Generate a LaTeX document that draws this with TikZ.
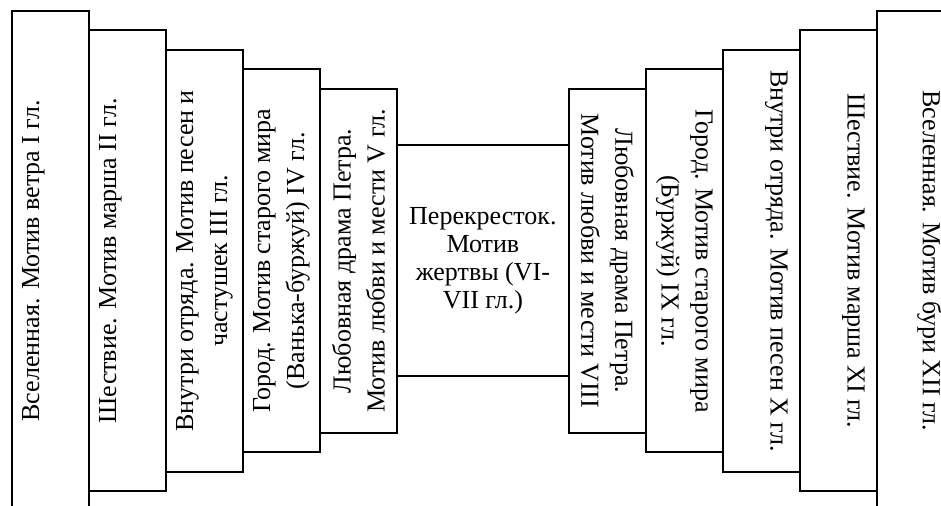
\documentclass[tikz,border=0pt]{standalone}
\usepackage{fontspec}
\setmainfont{Liberation Serif}
\usepackage{tikz}

\begin{document}
\begin{tikzpicture}[x=0.5pt,y=-0.5pt,
    stepbox/.style={draw,rectangle,line width=0.9pt,inner sep=0pt,anchor=north west},
    steptext/.style={align=center,inner sep=0pt,font=\fontsize{13}{17}\selectfont}]
    \useasboundingbox (0,0) rectangle (941,506);
    \clip (0,0) rectangle (941,506);

    % left steps, I-V
    \foreach \i/\s/\txt [evaluate={\l=11+77*(\i-1); \t=10+19.5*(\i-1); \h=(500-39*(\i-1))*0.5}] in
        {1/-8.5/{Вселенная. Мотив ветра I гл.},
         2/-8.5/{Шествие. Мотив марша II гл.},
         3/0/{Внутри отряда. Мотив песен и\\ частушек III гл.},
         4/0/{Город. Мотив старого мира\\ (Ванька-буржуй) IV гл.},
         5/0/{Любовная драма Петра.\\ Мотив любви и мести V гл.}}{
            \node[stepbox,minimum width=38.5pt,minimum height=\h pt] (L\i) at (\l,\t) {};
            \node[steptext,rotate=90] (L\i t) at ([xshift=\s pt]L\i.center) {\txt};
        }

    % right steps, VIII-XII
    \foreach \j/\s/\txt [evaluate={\l=568+77*(\j-1); \t=88-19.5*(\j-1); \h=(344+39*(\j-1))*0.5}] in
        {1/0/{Любовная драма Петра.\\ Мотив любви и мести VIII},
         2/0/{Город. Мотив старого мира\\ (Буржуй) IX гл.},
         3/7.5/{Внутри отряда. Мотив песен X гл.},
         4/7.5/{Шествие. Мотив марша XI гл.},
         5/7/{Вселенная. Мотив бури XII гл.}}{
            \node[stepbox,minimum width=38.5pt,minimum height=\h pt] (R\j) at (\l,\t) {};
            \node[steptext,rotate=-90] (R\j t) at ([xshift=\s pt]R\j.center) {\txt};
        }

    % crossroads in the middle
    \node[stepbox,minimum width=86pt,minimum height=115.5pt,
          align=center,font=\fontsize{13}{14}\selectfont] (C) at (396,144)
        {Перекресток.\\ Мотив\\ жертвы (VI-\\ VII гл.)};
\end{tikzpicture}
\end{document}
